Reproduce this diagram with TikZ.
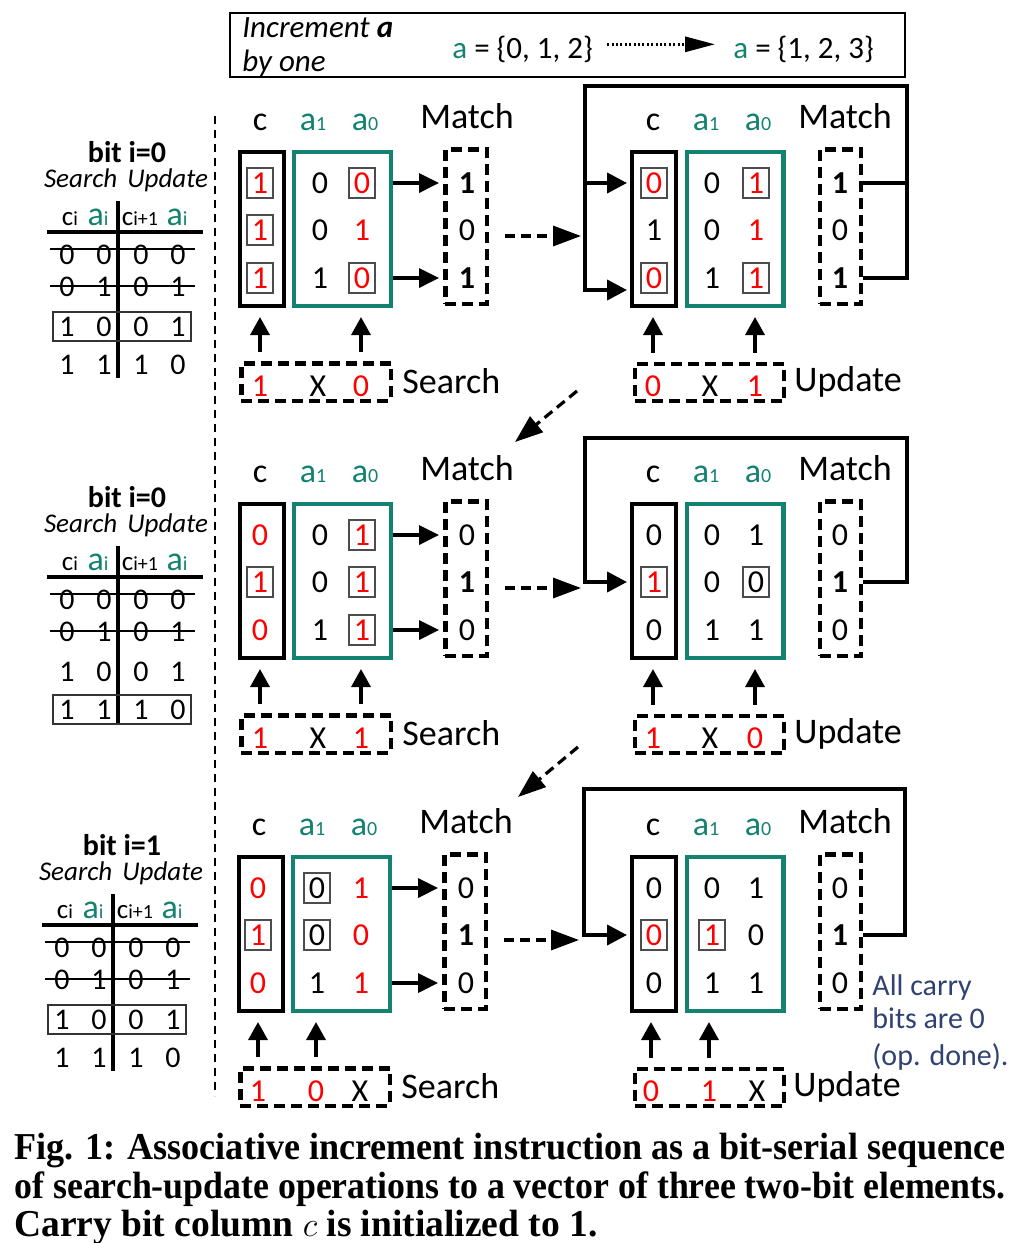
\documentclass[tikz,border=0pt]{standalone}
\usepackage{fontspec}
\setmainfont{Carlito}
\newfontfamily\capfont{Liberation Serif}
\usepackage{tikz}
\usetikzlibrary{arrows.meta, calc, positioning}
\usepackage{xcolor}
\definecolor{field}{RGB}{20,130,112}
\definecolor{flipped}{RGB}{255,0,0}
\definecolor{note}{RGB}{47,66,115}
\newcommand{\lo}[1]{{\fontsize{10}{10}\selectfont #1}}
\newcommand{\cells}[4]{\makebox[18.5pt]{#1}\makebox[18.5pt]{#2}\makebox[18.5pt]{#3}\makebox[18.5pt]{#4}}

\begin{document}
\begin{tikzpicture}[x=0.5pt, y=-0.5pt]

% TikZ styles
\tikzset{
  colhead/.style={anchor=base, inner sep=0pt, font=\fontsize{17}{17}\selectfont},
  bighead/.style={anchor=base, inner sep=0pt, font=\fontsize{18}{18}\selectfont},
  val/.style={inner sep=0pt, font=\fontsize{16}{16}\selectfont},
  flip/.style={text=flipped},
  bitset/.style={font=\fontsize{16}{16}\selectfont\bfseries},
  hit/.style={draw=black!70, line width=0.7pt, minimum width=13pt, minimum height=15pt},
  cbox/.style={rectangle, draw=black, line width=2.2pt, minimum width=21.8pt, minimum height=76.8pt},
  abox/.style={rectangle, draw=field, line width=2.2pt, minimum width=48.3pt, minimum height=76.8pt},
  mbox/.style={rectangle, draw=black, line width=2.2pt, dash pattern=on 5.5pt off 3pt, minimum width=20.7pt, minimum height=77.2pt},
  opbox/.style={rectangle, draw=black, line width=2.2pt, dash pattern=on 5.5pt off 3pt, minimum width=74.7pt, minimum height=18.7pt},
  arrow/.style={-{Triangle[length=10pt, width=9.5pt]}, line width=1.6pt, shorten >=2pt},
  uparrow/.style={-{Triangle[length=9pt, width=9.5pt]}, line width=1.7pt, shorten <=4.5pt, shorten >=4.5pt},
  looparrow/.style={-{Triangle[length=10pt, width=10pt]}, line width=2pt, shorten >=1.5pt},
  loopline/.style={line width=2pt},
  dasharrow/.style={-{Triangle[length=14pt, width=10pt]}, line width=1.6pt, dash pattern=on 5pt off 3pt},
  dotarrow/.style={-{Triangle[length=15pt, width=7.5pt]}, line width=1.5pt, dash pattern=on 1pt off 1.2pt},
  divider/.style={line width=0.9pt, dash pattern=on 4pt off 3pt},
  bitlbl/.style={anchor=base, inner sep=0pt, font=\fontsize{15}{15}\selectfont\bfseries},
  modelbl/.style={anchor=base, inner sep=0pt, font=\fontsize{13.5}{13.5}\selectfont\itshape},
  tabc/.style={anchor=base, inner sep=0pt, font=\fontsize{13.5}{13.5}\selectfont},
  taba/.style={anchor=base, inner sep=0pt, text=field, font=\fontsize{17}{17}\selectfont},
  tab/.style={inner sep=0pt, font=\fontsize{15}{15}\selectfont},
  rowbox/.style={draw=black!80, line width=0.7pt, minimum width=69pt, minimum height=14.5pt},
  strike/.style={line width=0.7pt},
  tabrule/.style={line width=1.6pt},
  notetext/.style={anchor=base west, inner sep=0pt, text=note, font=\fontsize{15}{15}\selectfont},
  caption/.style={anchor=base west, inner sep=0pt, font=\capfont\bfseries\fontsize{19}{19}\selectfont}
}

\path[fill=white, use as bounding box] (0,0) rectangle (1015,1243);

%==========================
% Aufgabe oben
%==========================
\node[draw, line width=1.2pt, inner sep=0pt, minimum width=337.5pt, minimum height=32pt] (task) at (567.5,45) {};
\node[anchor=base west, inner sep=0pt, font=\fontsize{15.5}{15.5}\selectfont\itshape] (taskA) at (242,37) {Increment \textbf{a}};
\node[anchor=base west, inner sep=0pt, font=\fontsize{15.5}{15.5}\selectfont\itshape] (taskB) at (242,71) {by one};
\node[anchor=base west, inner sep=0pt, font=\fontsize{15.5}{15.5}\selectfont] (fromset) at (452,58) {\textcolor{field}{a} = \{0, 1, 2\}};
\node[anchor=base west, inner sep=0pt, font=\fontsize{15.5}{15.5}\selectfont] (toset) at (733,58) {\textcolor{field}{a} = \{1, 2, 3\}};
\draw[dotarrow] ([xshift=7pt, yshift=2.3pt]fromset.east) -- ([xshift=-9pt, yshift=2.3pt]toset.west);

\draw[divider] (215,116) -- (215,1096);

%==========================
% Wahrheitstabellen links
%==========================
\begin{scope}
\node[bitlbl] (bitA) at (127,162) {bit i=0};
\node[modelbl] (modeA) at (126,187) {Search\hspace{5pt}Update};
\node[tabc] (tcA) at (70,225) {c\lo{i}};
\node[taba] (taA) at (98,225) {a\lo{i}};
\node[tabc] (tnA) at (140,225) {c\lo{i+1}};
\node[taba] (tbA) at (177,225) {a\lo{i}};
\draw[tabrule] (47,232) -- (203,232);
\draw[tabrule] (118,201) -- (118,378);
\node[tab] (rA1) at (122.5,255) {\cells{0}{0}{0}{0}};
\node[tab] (rA2) at (122.5,287) {\cells{0}{1}{0}{1}};
\node[tab] (rA3) at (122.5,327) {\cells{1}{0}{0}{1}};
\node[tab] (rA4) at (122.5,365) {\cells{1}{1}{1}{0}};
\draw[strike] (50,249) -- (195,249);
\draw[strike] (50,286) -- (195,286);
\node[rowbox] (hlA) at (122,326.5) {};
\end{scope}

\begin{scope}[shift={(0,345)}]
\node[bitlbl] (bitC) at (127,162) {bit i=0};
\node[modelbl] (modeC) at (126,187) {Search\hspace{5pt}Update};
\node[tabc] (tcC) at (70,225) {c\lo{i}};
\node[taba] (taC) at (98,225) {a\lo{i}};
\node[tabc] (tnC) at (140,225) {c\lo{i+1}};
\node[taba] (tbC) at (177,225) {a\lo{i}};
\draw[tabrule] (47,232) -- (203,232);
\draw[tabrule] (118,201) -- (118,378);
\node[tab] (rC1) at (122.5,255) {\cells{0}{0}{0}{0}};
\node[tab] (rC2) at (122.5,287) {\cells{0}{1}{0}{1}};
\node[tab] (rC3) at (122.5,327) {\cells{1}{0}{0}{1}};
\node[tab] (rC4) at (122.5,365) {\cells{1}{1}{1}{0}};
\draw[strike] (50,249) -- (195,249);
\draw[strike] (50,286) -- (195,286);
\node[rowbox] (hlC) at (122,364.5) {};
\end{scope}

\begin{scope}[shift={(-5,693)}]
\node[bitlbl] (bitE) at (127,162) {bit i=1};
\node[modelbl] (modeE) at (126,187) {Search\hspace{5pt}Update};
\node[tabc] (tcE) at (70,225) {c\lo{i}};
\node[taba] (taE) at (98,225) {a\lo{i}};
\node[tabc] (tnE) at (140,225) {c\lo{i+1}};
\node[taba] (tbE) at (177,225) {a\lo{i}};
\draw[tabrule] (47,232) -- (203,232);
\draw[tabrule] (118,201) -- (118,378);
\node[tab] (rE1) at (122.5,255) {\cells{0}{0}{0}{0}};
\node[tab] (rE2) at (122.5,287) {\cells{0}{1}{0}{1}};
\node[tab] (rE3) at (122.5,327) {\cells{1}{0}{0}{1}};
\node[tab] (rE4) at (122.5,365) {\cells{1}{1}{1}{0}};
\draw[strike] (50,249) -- (195,249);
\draw[strike] (50,286) -- (195,286);
\node[rowbox] (hlE) at (122,326.5) {};
\end{scope}

%==========================
% Schritt 1: Search (bit 0)
%==========================
\node[colhead] (hcA) at (260,130) {c};
\node[colhead, text=field] (h1A) at (313,130) {a\lo{1}};
\node[colhead, text=field] (h0A) at (365,130) {a\lo{0}};
\node[bighead] (hmA) at (467,128) {Match};
\node[cbox] (cbA) at (262,229) {};
\node[abox] (abA) at (342.5,229) {};
\node[mbox] (mbA) at (466,226.5) {};
\node[val, flip, hit] (cA1) at (260,183) {1};
\node[val, flip, hit] (cA2) at (260,230) {1};
\node[val, flip, hit] (cA3) at (260,278) {1};
\node[val] (xA1) at (320,183) {0};
\node[val] (xA2) at (320,230) {0};
\node[val] (xA3) at (320,278) {1};
\node[val, flip, hit] (yA1) at (362,183) {0};
\node[val, flip] (yA2) at (362,230) {1};
\node[val, flip, hit] (yA3) at (362,278) {0};
\node[val, bitset] (mA1) at (467,183) {1};
\node[val] (mA2) at (467,230) {0};
\node[val, bitset] (mA3) at (467,278) {1};
\node[opbox] (sbA) at (316,382) {};
\node[val, flip] (sA1) at (260,386) {1};
\node[val] (sA2) at (318,386) {X};
\node[val, flip] (sA3) at (361,386) {0};
\node[bighead, anchor=base west] (slA) at (402,393) {Search};
\draw[arrow] (abA.east |- yA1) -- (mbA.west |- yA1);
\draw[arrow] (abA.east |- yA3) -- (mbA.west |- yA3);
\draw[uparrow] (sbA.north -| sA1) -- (cbA.south -| sA1);
\draw[uparrow] (sbA.north -| sA3) -- (cbA.south -| sA3);

%==========================
% Schritt 2: Update (bit 0)
%==========================
\node[colhead] (hcB) at (653,130) {c};
\node[colhead, text=field] (h1B) at (706,130) {a\lo{1}};
\node[colhead, text=field] (h0B) at (758,130) {a\lo{0}};
\node[bighead] (hmB) at (845,128) {Match};
\node[cbox] (cbB) at (654,229) {};
\node[abox] (abB) at (735,229) {};
\node[mbox] (mbB) at (840.5,226.5) {};
\node[val, flip, hit] (cB1) at (654,183) {0};
\node[val] (cB2) at (654,230) {1};
\node[val, flip, hit] (cB3) at (654,278) {0};
\node[val] (xB1) at (712,183) {0};
\node[val] (xB2) at (712,230) {0};
\node[val] (xB3) at (712,278) {1};
\node[val, flip, hit] (yB1) at (756,183) {1};
\node[val, flip] (yB2) at (756,230) {1};
\node[val, flip, hit] (yB3) at (756,278) {1};
\node[val, bitset] (mB1) at (840,183) {1};
\node[val] (mB2) at (840,230) {0};
\node[val, bitset] (mB3) at (840,278) {1};
\node[opbox] (ubB) at (709.5,382.5) {};
\node[val, flip] (uB1) at (653,386) {0};
\node[val] (uB2) at (710,386) {X};
\node[val, flip] (uB3) at (755,386) {1};
\node[bighead, anchor=base west] (ulB) at (794,391) {Update};
\draw[uparrow] (ubB.north -| uB1) -- (cbB.south -| uB1);
\draw[uparrow] (ubB.north -| uB3) -- (cbB.south -| uB3);
% Rueckkopplung Match -> c
\coordinate (ltB) at (585,86);
\coordinate (rtB) at (907,86);
\coordinate (lbB) at (585,290);
\draw[loopline] (mbB.east |- mB1) -- (rtB |- mB1);
\draw[looparrow] (mbB.east |- mB3) -- (rtB |- mB3) -- (rtB) -- (ltB) -- (lbB) -- (cbB.west |- lbB);
\draw[looparrow] (ltB |- cB1) -- (cbB.west |- cB1);
\coordinate (inB) at (581,236);
\draw[dasharrow] ([xshift=8pt]mbA.east |- inB) -- (inB);

\coordinate (outB) at (577,391);
\coordinate (inC) at (515,442);
\draw[dasharrow] (outB) -- (inC);

%==========================
% Schritt 3: Search (bit 0)
%==========================
\begin{scope}[shift={(0,352)}]
\node[colhead] (hcC) at (260,130) {c};
\node[colhead, text=field] (h1C) at (313,130) {a\lo{1}};
\node[colhead, text=field] (h0C) at (365,130) {a\lo{0}};
\node[bighead] (hmC) at (467,128) {Match};
\node[cbox] (cbC) at (262,229) {};
\node[abox] (abC) at (342.5,229) {};
\node[mbox] (mbC) at (466,226.5) {};
\node[val, flip] (cC1) at (260,183) {0};
\node[val, flip, hit] (cC2) at (260,230) {1};
\node[val, flip] (cC3) at (260,278) {0};
\node[val] (xC1) at (320,183) {0};
\node[val] (xC2) at (320,230) {0};
\node[val] (xC3) at (320,278) {1};
\node[val, flip, hit] (yC1) at (362,183) {1};
\node[val, flip, hit] (yC2) at (362,230) {1};
\node[val, flip, hit] (yC3) at (362,278) {1};
\node[val] (mC1) at (467,183) {0};
\node[val, bitset] (mC2) at (467,230) {1};
\node[val] (mC3) at (467,278) {0};
\node[opbox] (sbC) at (316,382) {};
\node[val, flip] (sC1) at (260,386) {1};
\node[val] (sC2) at (318,386) {X};
\node[val, flip] (sC3) at (361,386) {1};
\node[bighead, anchor=base west] (slC) at (402,393) {Search};
\draw[arrow] (abC.east |- yC1) -- (mbC.west |- yC1);
\draw[arrow] (abC.east |- yC3) -- (mbC.west |- yC3);
\draw[uparrow] (sbC.north -| sC1) -- (cbC.south -| sC1);
\draw[uparrow] (sbC.north -| sC3) -- (cbC.south -| sC3);
\end{scope}

%==========================
% Schritt 4: Update (bit 0)
%==========================
\begin{scope}[shift={(0,352)}]
\node[colhead] (hcD) at (653,130) {c};
\node[colhead, text=field] (h1D) at (706,130) {a\lo{1}};
\node[colhead, text=field] (h0D) at (758,130) {a\lo{0}};
\node[bighead] (hmD) at (845,128) {Match};
\node[cbox] (cbD) at (654,229) {};
\node[abox] (abD) at (735,229) {};
\node[mbox] (mbD) at (840.5,226.5) {};
\node[val] (cD1) at (654,183) {0};
\node[val, flip, hit] (cD2) at (654,230) {1};
\node[val] (cD3) at (654,278) {0};
\node[val] (xD1) at (712,183) {0};
\node[val] (xD2) at (712,230) {0};
\node[val] (xD3) at (712,278) {1};
\node[val] (yD1) at (756,183) {1};
\node[val, hit] (yD2) at (756,230) {0};
\node[val] (yD3) at (756,278) {1};
\node[val] (mD1) at (840,183) {0};
\node[val, bitset] (mD2) at (840,230) {1};
\node[val] (mD3) at (840,278) {0};
\node[opbox] (ubD) at (709.5,382.5) {};
\node[val, flip] (uD1) at (653,386) {1};
\node[val] (uD2) at (710,386) {X};
\node[val, flip] (uD3) at (755,386) {0};
\node[bighead, anchor=base west] (ulD) at (794,391) {Update};
\draw[uparrow] (ubD.north -| uD1) -- (cbD.south -| uD1);
\draw[uparrow] (ubD.north -| uD3) -- (cbD.south -| uD3);
\coordinate (ltD) at (585,86);
\coordinate (rtD) at (907,86);
\draw[looparrow] (mbD.east |- mD2) -- (rtD |- mD2) -- (rtD) -- (ltD) -- (ltD |- cD2) -- (cbD.west |- cD2);
\coordinate (inD) at (581,236);
\draw[dasharrow] ([xshift=8pt]mbC.east |- inD) -- (inD);
\end{scope}

\coordinate (outD) at (578,747);
\coordinate (inE) at (518,797);
\draw[dasharrow] (outD) -- (inE);

%==========================
% Schritt 5: Search (bit 1)
%==========================
\begin{scope}[shift={(-1,705)}]
\node[colhead] (hcE) at (260,130) {c};
\node[colhead, text=field] (h1E) at (313,130) {a\lo{1}};
\node[colhead, text=field] (h0E) at (365,130) {a\lo{0}};
\node[bighead] (hmE) at (467,128) {Match};
\node[cbox] (cbE) at (262,229) {};
\node[abox] (abE) at (342.5,229) {};
\node[mbox] (mbE) at (466,226.5) {};
\node[val, flip] (cE1) at (259,183) {0};
\node[val, flip, hit] (cE2) at (259,230) {1};
\node[val, flip] (cE3) at (259,278) {0};
\node[val, hit] (xE1) at (318,183) {0};
\node[val, hit] (xE2) at (318,230) {0};
\node[val] (xE3) at (318,278) {1};
\node[val, flip] (yE1) at (362,183) {1};
\node[val, flip] (yE2) at (362,230) {0};
\node[val, flip] (yE3) at (362,278) {1};
\node[val] (mE1) at (467,183) {0};
\node[val, bitset] (mE2) at (467,230) {1};
\node[val] (mE3) at (467,278) {0};
\node[opbox] (sbE) at (316,382) {};
\node[val, flip] (sE1) at (259,386) {1};
\node[val, flip] (sE2) at (317,386) {0};
\node[val] (sE3) at (361,386) {X};
\node[bighead, anchor=base west] (slE) at (402,393) {Search};
\draw[arrow] (abE.east |- yE1) -- (mbE.west |- yE1);
\draw[arrow] (abE.east |- yE3) -- (mbE.west |- yE3);
\draw[uparrow] (sbE.north -| sE1) -- (cbE.south -| sE1);
\draw[uparrow] (sbE.north -| sE2) -- (cbE.south -| sE2);
\end{scope}

%==========================
% Schritt 6: Update (bit 1)
%==========================
\begin{scope}[shift={(0,705)}]
\node[colhead] (hcF) at (653,130) {c};
\node[colhead, text=field] (h1F) at (706,130) {a\lo{1}};
\node[colhead, text=field] (h0F) at (758,130) {a\lo{0}};
\node[bighead] (hmF) at (845,128) {Match};
\node[cbox] (cbF) at (654,229) {};
\node[abox] (abF) at (735,229) {};
\node[mbox] (mbF) at (840.5,226.5) {};
\node[val] (cF1) at (654,183) {0};
\node[val, flip, hit] (cF2) at (654,230) {0};
\node[val] (cF3) at (654,278) {0};
\node[val] (xF1) at (712,183) {0};
\node[val, flip, hit] (xF2) at (712,230) {1};
\node[val] (xF3) at (712,278) {1};
\node[val] (yF1) at (756,183) {1};
\node[val] (yF2) at (756,230) {0};
\node[val] (yF3) at (756,278) {1};
\node[val] (mF1) at (840,183) {0};
\node[val, bitset] (mF2) at (840,230) {1};
\node[val] (mF3) at (840,278) {0};
\node[opbox] (ubF) at (709.5,382.5) {};
\node[val, flip] (uF1) at (651,386) {0};
\node[val, flip] (uF2) at (709,386) {1};
\node[val] (uF3) at (757,386) {X};
\node[bighead, anchor=base west] (ulF) at (793,391) {Update};
\draw[uparrow] (ubF.north -| uF1) -- (cbF.south -| uF1);
\draw[uparrow] (ubF.north -| uF2) -- (cbF.south -| uF2);
\coordinate (ltF) at (584,84);
\coordinate (rtF) at (905,84);
\draw[looparrow] (mbF.east |- mF2) -- (rtF |- mF2) -- (rtF) -- (ltF) -- (ltF |- cF2) -- (cbF.west |- cF2);
\coordinate (inF) at (579,235);
\draw[dasharrow] ([xshift=8pt]mbE.east |- inF) -- (inF);
\end{scope}

\node[notetext] (done1) at (872,995) {All carry};
\node[notetext] (done2) at (872,1028) {bits are 0};
\node[notetext] (done3) at (872,1065) {(op. done).};

%==========================
% Bildunterschrift
%==========================
\node[caption] (cap1) at (14,1159) {\resizebox{495.5pt}{\height}{Fig. 1: Associative increment instruction as a bit-serial sequence}};
\node[caption] (cap2) at (14,1198) {\resizebox{495.5pt}{\height}{of search-update operations to a vector of three two-bit elements.}};
\node[caption] (cap3) at (14,1236) {\resizebox{291.5pt}{\height}{Carry bit column $c$ is initialized to 1.}};
\end{tikzpicture}
\end{document}
